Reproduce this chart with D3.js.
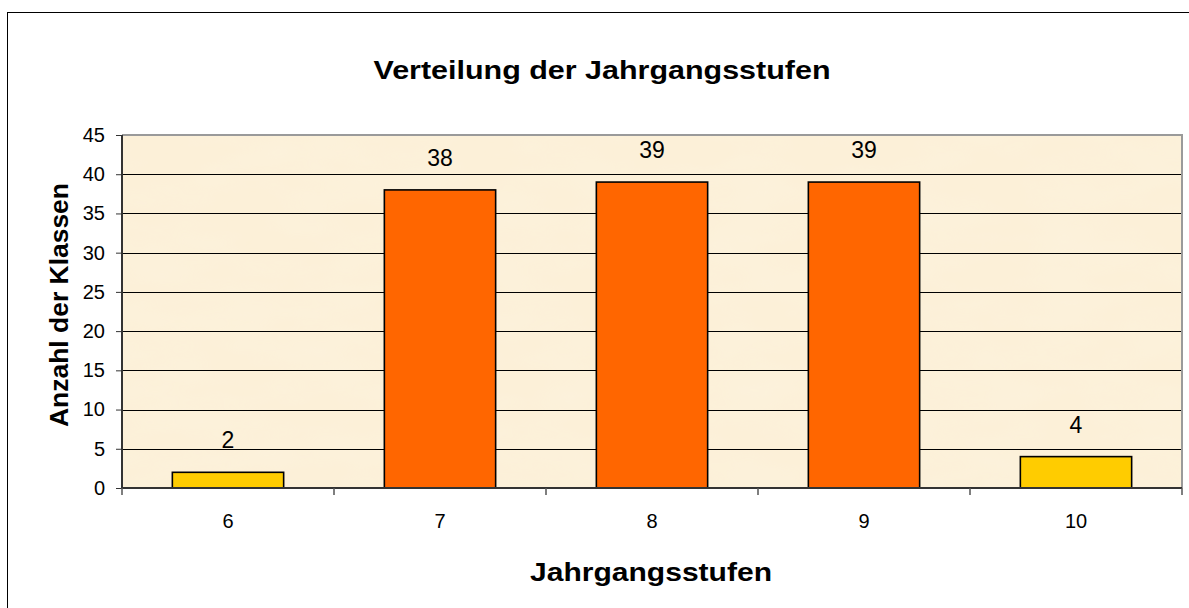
<!DOCTYPE html>
<html>
<head>
<meta charset="utf-8">
<script src="https://cdn.jsdelivr.net/npm/d3@7"></script>
<style>
  body { margin: 0; background: #fff; }
  text { font-family: "Liberation Sans", Arimo, sans-serif; fill: #000; }
</style>
</head>
<body>
<div id="chart"></div>
<script>
//chart data
var categories = ["6", "7", "8", "9", "10"];
var values = [2, 38, 39, 39, 4];
var barColors = ["#FFCC00", "#FF6600", "#FF6600", "#FF6600", "#FFCC00"];
var yTicks = [0, 5, 10, 15, 20, 25, 30, 35, 40, 45];

var W = 1189, H = 608;
var margin = {top: 135, right: 7, bottom: 120, left: 122},
    width = W - margin.left - margin.right,
    height = H - margin.top - margin.bottom;

var svgRoot = d3.select("#chart").append("svg")
    .attr("width", W)
    .attr("height", H);

//outer frame (right and bottom edge run off the page)
svgRoot.append("rect")
    .attr("x", 7.5).attr("y", 12.5)
    .attr("width", W).attr("height", H)
    .attr("fill", "#fff")
    .attr("stroke", "#000")
    .attr("stroke-width", 1);

//texture for plot background
var defs = svgRoot.append("defs");
var filt = defs.append("filter").attr("id", "paper")
    .attr("x", 0).attr("y", 0).attr("width", 1).attr("height", 1);
filt.append("feTurbulence")
    .attr("type", "fractalNoise")
    .attr("baseFrequency", "0.012 0.03")
    .attr("numOctaves", 3)
    .attr("seed", 4)
    .attr("result", "noise");
filt.append("feColorMatrix")
    .attr("in", "noise")
    .attr("type", "matrix")
    .attr("values", "0 0 0 0 0.98  0 0 0 0 0.91  0 0 0 0 0.76  0 0 0 0.6 -0.2")
    .attr("result", "tint");
filt.append("feComposite").attr("in", "tint").attr("in2", "SourceGraphic").attr("operator", "in");

var svg = svgRoot.append("g")
    .attr("transform", "translate(" + margin.left + "," + margin.top + ")");

svg.append("rect")
    .attr("width", width).attr("height", height)
    .attr("fill", "#fcf0d8");
svg.append("rect")
    .attr("width", width).attr("height", height)
    .attr("fill", "#fff")
    .attr("filter", "url(#paper)");

//scales
var x = d3.scaleBand().domain(categories).range([0, width]).paddingInner(0).paddingOuter(0);
var y = d3.scaleLinear().domain([0, 45]).range([height, 0]);

//gridlines
svg.selectAll(".grid")
  .data(yTicks.filter(function(d) { return d > 0 && d < 45; }))
  .enter().append("line")
    .attr("class", "grid")
    .attr("x1", 0).attr("x2", width)
    .attr("y1", function(d) { return Math.round(y(d)) + 0.5; })
    .attr("y2", function(d) { return Math.round(y(d)) + 0.5; })
    .attr("stroke", "#000")
    .attr("stroke-width", 1);

//plot border top/right
svg.append("path")
    .attr("d", "M0," + 0 + "H" + width + "V" + height)
    .attr("fill", "none")
    .attr("stroke", "#9a9a9a")
    .attr("stroke-width", 2);

//bars
var bw = x.bandwidth() * 0.525;
svg.selectAll(".bar")
  .data(values)
  .enter().append("rect")
    .attr("class", "bar")
    .attr("x", function(d, i) { return x(categories[i]) + (x.bandwidth() - bw) / 2; })
    .attr("y", function(d) { return y(d); })
    .attr("width", bw)
    .attr("height", function(d) { return height - y(d); })
    .attr("fill", function(d, i) { return barColors[i]; })
    .attr("stroke", "#000")
    .attr("stroke-width", 1.6);

//value labels
svg.selectAll(".val")
  .data(values)
  .enter().append("text")
    .attr("class", "val")
    .attr("x", function(d, i) { return x(categories[i]) + x.bandwidth() / 2; })
    .attr("y", function(d) { return y(d) - 24; })
    .attr("text-anchor", "middle")
    .style("font-size", "23px")
    .text(function(d) { return d; });

//y axis
var yAxis = d3.axisLeft(y).tickValues(yTicks).tickSize(6).tickPadding(11);
var gy = svg.append("g").call(yAxis);
gy.select(".domain").attr("stroke", "#333").attr("stroke-width", 2).attr("d", "M0,0V" + height);
gy.selectAll(".tick line").attr("stroke", "#333");
gy.selectAll(".tick text").style("font-size", "20px").attr("fill", "#000")
    .style("font-family", "'Liberation Sans', Arimo, sans-serif");

//x axis, ticks between categories
var gx = svg.append("g").attr("transform", "translate(0," + height + ")");
gx.append("line")
    .attr("x1", 0).attr("x2", width)
    .attr("stroke", "#333").attr("stroke-width", 2);
gx.selectAll(".xt")
  .data(categories.map(function(c) { return x(c); }).concat([width]))
  .enter().append("line")
    .attr("class", "xt")
    .attr("x1", function(d) { return d; }).attr("x2", function(d) { return d; })
    .attr("y1", 0).attr("y2", 7)
    .attr("stroke", "#555").attr("stroke-width", 1.5);
gx.selectAll(".xl")
  .data(categories)
  .enter().append("text")
    .attr("class", "xl")
    .attr("x", function(d) { return x(d) + x.bandwidth() / 2; })
    .attr("y", 40)
    .attr("text-anchor", "middle")
    .style("font-size", "20px")
    .text(function(d) { return d; });

//titles (the original text is stretched sideways)
svgRoot.append("text")
    .attr("x", 602).attr("y", 79)
    .attr("text-anchor", "middle")
    .attr("textLength", 457).attr("lengthAdjust", "spacingAndGlyphs")
    .style("font-size", "26px").style("font-weight", "bold")
    .text("Verteilung der Jahrgangsstufen");

svgRoot.append("text")
    .attr("x", 651).attr("y", 581)
    .attr("text-anchor", "middle")
    .attr("textLength", 242).attr("lengthAdjust", "spacingAndGlyphs")
    .style("font-size", "25px").style("font-weight", "bold")
    .text("Jahrgangsstufen");

svgRoot.append("text")
    .attr("transform", "translate(68,305) rotate(-90)")
    .attr("text-anchor", "middle")
    .attr("textLength", 244).attr("lengthAdjust", "spacingAndGlyphs")
    .style("font-size", "25px").style("font-weight", "bold")
    .text("Anzahl der Klassen");
</script>
</body>
</html>
